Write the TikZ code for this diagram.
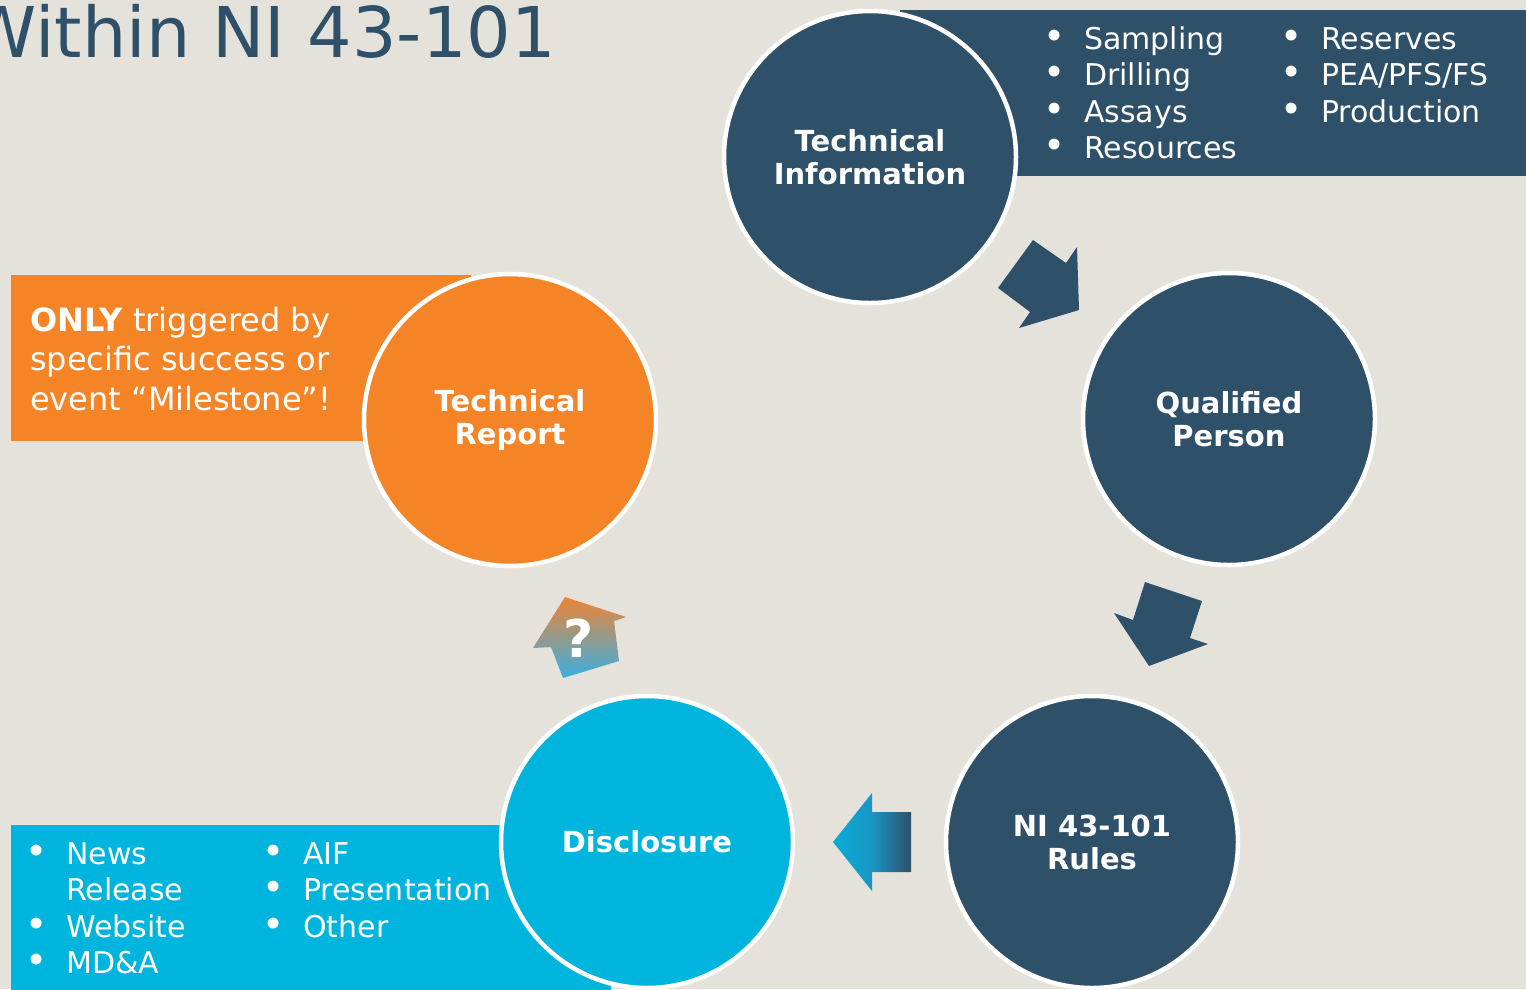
\documentclass[tikz,border=0pt]{standalone}
\usepackage{fontspec}
\setmainfont{DejaVu Sans}
\definecolor{bg}{HTML}{E5E2DC}
\definecolor{dblue}{HTML}{2E5069}
\definecolor{orng}{HTML}{F58426}
\definecolor{cyn}{HTML}{00B5DD}
\definecolor{qtop}{HTML}{EE8436}
\definecolor{qmid}{HTML}{BC95A6}
\definecolor{qbot}{HTML}{3AB0E0}
\definecolor{acyan}{HTML}{08ACD8}
\definecolor{amid}{HTML}{1996C2}
\pgfdeclarehorizontalshading{lshade}{100bp}{color(0bp)=(acyan); color(25bp)=(acyan); color(50bp)=(amid); color(75bp)=(dblue); color(100bp)=(dblue)}
\newcommand\mybul{\makebox[40pt][l]{\hspace{-1pt}\scalebox{1.25}{•}}}
\newcommand\mynobul{\makebox[40pt][l]{}}
\begin{document}
\begin{tikzpicture}[x=1pt,y=-1pt,
  circ/.style={circle, draw=white, line width=4.5pt, minimum size=292pt, inner sep=0pt,
    text=white, font=\fontsize{29}{33}\selectfont\bfseries, align=center},
  panel/.style={anchor=north west, inner sep=0pt, outer sep=0pt},
  listtext/.style={anchor=base west, inner sep=0pt, align=left, text=white,
    font=\fontsize{30}{36.5}\selectfont},
  blockarrow/.style={fill=dblue}]
\clip (0,0) rectangle (1526,989);
\useasboundingbox (0,0) rectangle (1526,989);
\fill[bg] (0,0) rectangle (1526,989);
% title
\node[anchor=base east, inner sep=0pt, text=dblue, font=\fontsize{70}{72}\selectfont] (title) at (556,57) {Within NI 43-101};
% panels
\node[panel, fill=dblue, minimum width=630pt, minimum height=166pt] (tipanel) at (900,10) {};
\node[panel, fill=orng, minimum width=460pt, minimum height=166pt] (trpanel) at (11,275) {};
\node[panel, fill=cyn, minimum width=600pt, minimum height=166pt] (dpanel) at (11,825) {};
% circles
\node[circ, fill=dblue] (ti) at (870,157) {Technical\\Information};
\node[circ, fill=dblue] (qp) at (1229,419) {Qualified\\Person};
\node[circ, fill=dblue] (ni) at (1092,842) {NI 43-101\\Rules};
\node[circ, fill=cyn] (dis) at (647,842) {Disclosure};
\node[circ, fill=orng] (tr) at (510,420) {Technical\\Report};
% list texts (anchored at the baseline of their last line)
\node[listtext] (tilist1) at (1044,158.5) {\mybul Sampling\\\mybul Drilling\\\mybul Assays\\\mybul Resources};
\node[listtext] (tilist2) at (1281,122) {\mybul Reserves\\\mybul PEA/PFS/FS\\\mybul Production};
\node[listtext] (dlist1) at (26,973.5) {\mybul News\\\mynobul Release\\\mybul Website\\\mybul MD\&A};
\node[listtext] (dlist2) at (263,937) {\mybul AIF\\\mybul Presentation\\\mybul Other};
\node[anchor=base west, inner sep=0pt, align=left, text=white, font=\fontsize{32}{39.5}\selectfont] (trtext) at (30,410) {\textbf{ONLY} triggered by\\specific success or\\event “Milestone”!};
% block arrows
\fill[blockarrow] (1033,240) -- (1066,263) -- (1077,247) -- (1079,310) -- (1019,328) -- (1030,312) -- (998,288) -- cycle;
\fill[blockarrow] (1145,582) -- (1202,601) -- (1190,638) -- (1208,644) -- (1149,666) -- (1114,613) -- (1133,620) -- cycle;
\shade[shading=lshade] (872,793) -- (872,812) -- (911,812) -- (911,872) -- (872,872) -- (872,891) -- (833,842) -- cycle;
\shade[top color=qtop, middle color=qmid, bottom color=qbot] (565,597) -- (626,617) -- (614,621) -- (619,661) -- (563,678) -- (551,647) -- (533,648) -- cycle;
\node[text=white, font=\fontsize{52}{52}\selectfont\bfseries, inner sep=0pt] (q) at (579,638) {?};
\end{tikzpicture}
\end{document}
